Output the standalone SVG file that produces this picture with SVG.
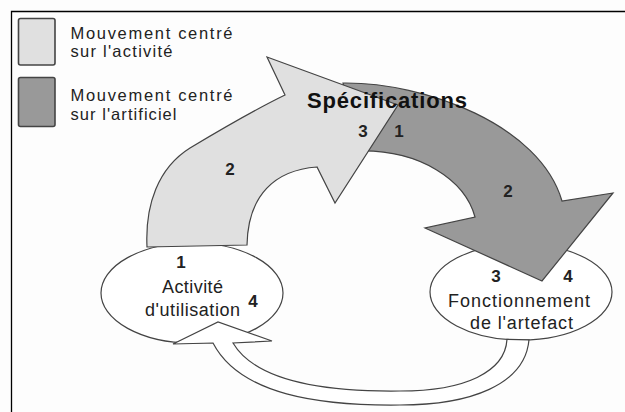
<svg xmlns="http://www.w3.org/2000/svg" width="625" height="412" viewBox="0 0 625 412">
<style>
  .txt { font-family: "Liberation Sans", Arial, sans-serif; font-size: 18px; fill: #222; }
  .leg { font-family: "Liberation Sans", Arial, sans-serif; font-size: 16.5px; fill: #222; }
  .num { font-family: "Liberation Sans", Arial, sans-serif; font-size: 17px; font-weight: bold; fill: #222; text-anchor: middle; }
  .title { font-family: "Liberation Sans", Arial, sans-serif; font-size: 22px; font-weight: bold; fill: #111; }
  .node { fill: #ffffff; stroke: #444; stroke-width: 1.2; }
  .light { fill: #e0e0e0; stroke: #444; stroke-width: 1.2; stroke-linejoin: miter; }
  .dark { fill: #999999; stroke: #444; stroke-width: 1.2; stroke-linejoin: miter; }
  .ret { fill: #ffffff; stroke: #444; stroke-width: 1.2; }
  .frame { stroke: #000; stroke-width: 1.3; fill: none; }
  .key { stroke: #444; stroke-width: 1.6; }
</style>
<rect x="0" y="0" width="625" height="412" fill="#fdfdfd"/>
<path class="frame" d="M11.5,412 V11.5 H625"/>

<g id="legend">
  <rect class="key" x="18.5" y="18.5" width="36.5" height="46.5" rx="2" fill="#e0e0e0"/>
  <text class="leg" x="70.5" y="39" textLength="162">Mouvement centré</text>
  <text class="leg" x="70.5" y="57" textLength="102">sur l'activité</text>
  <rect class="key" x="18.5" y="77.5" width="36.5" height="49" rx="2" fill="#999999"/>
  <text class="leg" x="70.5" y="101" textLength="162">Mouvement centré</text>
  <text class="leg" x="70.5" y="120" textLength="106">sur l'artificiel</text>
</g>

<g id="node-activite">
  <ellipse class="node" cx="192" cy="293" rx="91" ry="50"/>
  <text class="num" x="181" y="268">1</text>
  <text class="txt" x="162" y="293" textLength="61">Activité</text>
  <text class="txt" x="145" y="316" textLength="95">d'utilisation</text>
  <text class="num" x="253" y="307">4</text>
</g>

<g id="node-fonctionnement">
  <ellipse class="node" cx="521" cy="292" rx="91" ry="48"/>
  <text class="num" x="496" y="282">3</text>
  <text class="num" x="568" y="282">4</text>
  <text class="txt" x="448" y="307" textLength="142">Fonctionnement</text>
  <text class="txt" x="470" y="329" textLength="103">de l'artefact</text>
</g>

<g id="connectors">
  <path id="arrow-retour" class="ret" d="M529,339.8 C525,385 470,405 400,405 C320,406 240,395 213,343 L173,344 L218,322 L272,341 L233,343 C255,380 320,392 400,391 C465,391 505,372 507,339.4 Z"/>
  <path id="arrow-artificiel" class="dark" d="M343,83 C425,82 540,125 562,201 L613,193 L542,281 L425,228 L475,217 C465,180 420,150 360,151 Z"/>
  <path id="arrow-activite" class="light" d="M147,247 C145,205 158,168 190,148 C220,130 250,112 285,95 L267,57 L398,105 L335,203 L317,167 C275,170 248,195 247,245 Z"/>
  <text class="num" x="230" y="175">2</text>
  <text class="num" x="363" y="137">3</text>
  <text class="num" x="399" y="137">1</text>
  <text class="num" x="508" y="197">2</text>
</g>

<g id="specifications">
  <text class="title" x="307" y="108" textLength="160">Spécifications</text>
</g>
</svg>
